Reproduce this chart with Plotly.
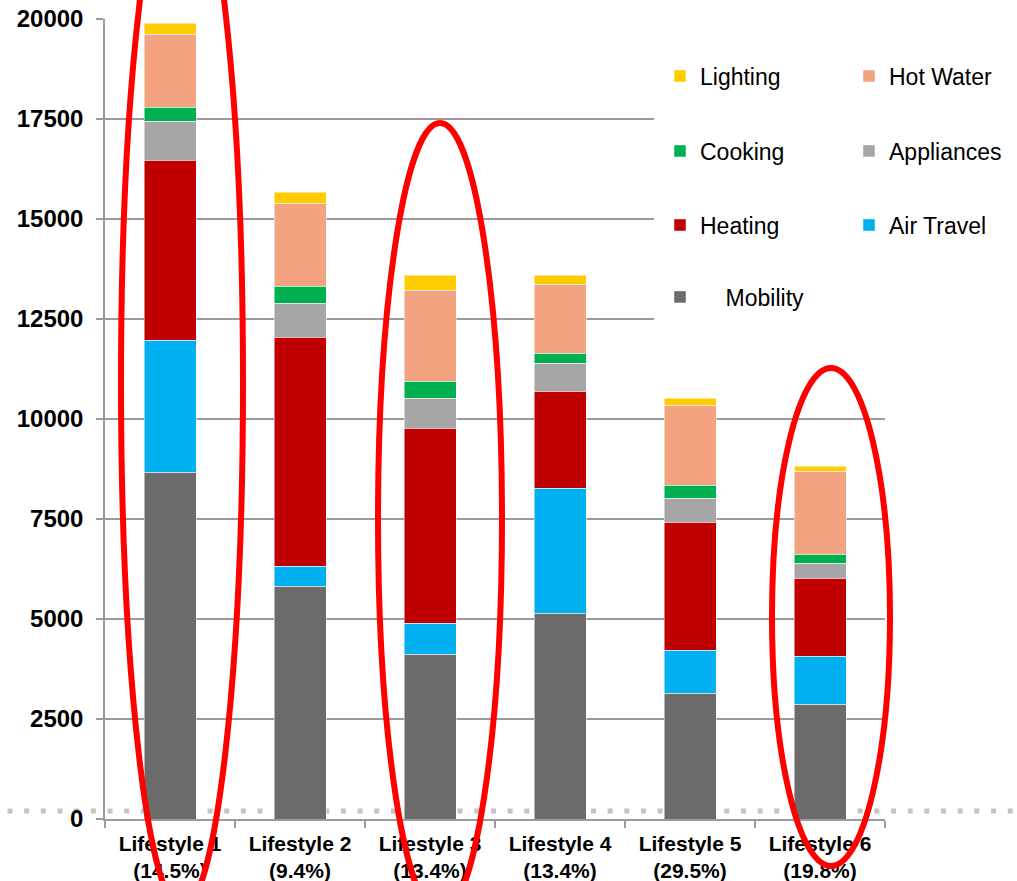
import plotly.graph_objects as go

# ---- data -------------------------------------------------------------
lifestyles = ["Lifestyle 1", "Lifestyle 2", "Lifestyle 3",
              "Lifestyle 4", "Lifestyle 5", "Lifestyle 6"]
shares = ["14.5%", "9.4%", "13.4%", "13.4%", "29.5%", "19.8%"]

mobility   = [8675, 5825, 4125, 5150, 3150, 2875]
air_travel = [3300,  500,  775, 3125, 1075, 1200]
heating    = [4500, 5725, 4875, 2425, 3200, 1950]
appliances = [ 975,  850,  750,  700,  600,  375]
cooking    = [ 350,  425,  425,  250,  325,  225]
hot_water  = [1825, 2075, 2275, 1725, 2000, 2075]
lighting   = [ 275,  275,  375,  225,  175,  125]

y_ticks = [0, 2500, 5000, 7500, 10000, 12500, 15000, 17500, 20000]

categories = [f"{n}<br>({s})" for n, s in zip(lifestyles, shares)]

# ---- canvas geometry (pixels) ----------------------------------------
W, H = 1017, 881
PLOT_L, PLOT_R, PLOT_T, PLOT_B = 105, 885, 19, 819

def px_x(x):
    return (x - PLOT_L) / (PLOT_R - PLOT_L)

def px_y(y):
    return (PLOT_B - y) / (PLOT_B - PLOT_T)

# series drawn bottom-up; each gets its own small legend box
series = [
    ("\u00a0\u00a0\u00a0\u00a0Mobility", mobility,   "#6B6B6B", "legend7"),
    ("Air Travel", air_travel, "#00B0F0", "legend6"),
    ("Heating",    heating,    "#C00000", "legend5"),
    ("Appliances", appliances, "#A6A6A6", "legend4"),
    ("Cooking",    cooking,    "#00B050", "legend3"),
    ("Hot Water",  hot_water,  "#F3A380", "legend2"),
    ("Lighting",   lighting,   "#FFCC00", "legend"),
]

fig = go.Figure()
for name, vals, color, leg in series:
    fig.add_trace(go.Bar(
        x=categories, y=vals, name=name, legend=leg,
        marker=dict(color=color, line=dict(color="rgba(255,255,255,0.6)", width=0.8)),
        showlegend=True,
    ))

# legend positions: (marker centre x, row centre y) in pixels
legend_pos = {
    "legend":  (684, 76),  "legend2": (873, 76),
    "legend3": (684, 151), "legend4": (873, 151),
    "legend5": (684, 225), "legend6": (873, 225),
    "legend7": (684, 297),
}
legend_font = dict(family="Liberation Sans, Arial, sans-serif", size=23, color="#000000")
legend_layouts = {}
for key, (mx, my) in legend_pos.items():
    legend_layouts[key] = dict(
        x=(mx - 24) / W, y=1 - my / H, xref="container", yref="container",
        xanchor="left", yanchor="middle",
        bgcolor="rgba(0,0,0,0)", borderwidth=0,
        font=legend_font, itemclick=False, itemdoubleclick=False,
    )

axis_grey = "#9B9B9B"

shapes = [
    # dotted baseline running across the whole canvas
    dict(type="line", xref="paper", yref="paper",
         x0=px_x(7.5), x1=px_x(W), y0=px_y(811), y1=px_y(811),
         line=dict(color="#C4C4C4", width=5, dash="5px,11.67px"), layer="below"),
    # white box behind the legend
    dict(type="rect", xref="paper", yref="paper",
         x0=px_x(654), x1=px_x(W + 5), y0=px_y(335), y1=px_y(35),
         fillcolor="white", line=dict(width=0), layer="above"),
]

# red highlight ellipses: (centre x, centre y, half width, half height)
ellipses = [(182, 382, 61, 527), (440, 519, 62, 396), (831, 617, 59, 249)]
for cx, cy, a, b in ellipses:
    shapes.append(dict(
        type="circle", xref="paper", yref="paper",
        x0=px_x(cx - a), x1=px_x(cx + a), y0=px_y(cy + b), y1=px_y(cy - b),
        line=dict(color="#FF0000", width=6), fillcolor="rgba(0,0,0,0)", layer="above",
    ))

fig.update_layout(
    template="none",
    width=W, height=H,
    margin=dict(l=PLOT_L, r=W - PLOT_R, t=PLOT_T, b=H - PLOT_B, pad=0, autoexpand=False),
    barmode="stack", bargap=0.6,
    paper_bgcolor="white", plot_bgcolor="white",
    font=dict(family="Liberation Sans, Arial, sans-serif", color="#000000"),
    shapes=shapes,
    **legend_layouts,
)

fig.update_xaxes(
    type="category", showgrid=False, showline=True, linecolor=axis_grey, linewidth=1.5,
    ticks="outside", tickson="boundaries", ticklen=7, tickcolor=axis_grey, tickwidth=1.5,
    tickangle=0, automargin=False, ticklabelstandoff=5,
    tickfont=dict(family="Liberation Sans, Arial, sans-serif", size=21, color="#000000",
                  weight="bold"),
    zeroline=False,
)
fig.update_yaxes(
    range=[0, 20000], tickvals=y_ticks, tickformat="d", automargin=False,
    showgrid=True, gridcolor=axis_grey, gridwidth=1.5,
    showline=True, linecolor=axis_grey, linewidth=1.5,
    ticks="outside", ticklen=7, tickcolor=axis_grey, tickwidth=1.5,
    ticklabelstandoff=8,
    tickfont=dict(family="Liberation Sans, Arial, sans-serif", size=24, color="#000000",
                  weight="bold"),
    zeroline=False,
)

fig.write_html("out.html")
